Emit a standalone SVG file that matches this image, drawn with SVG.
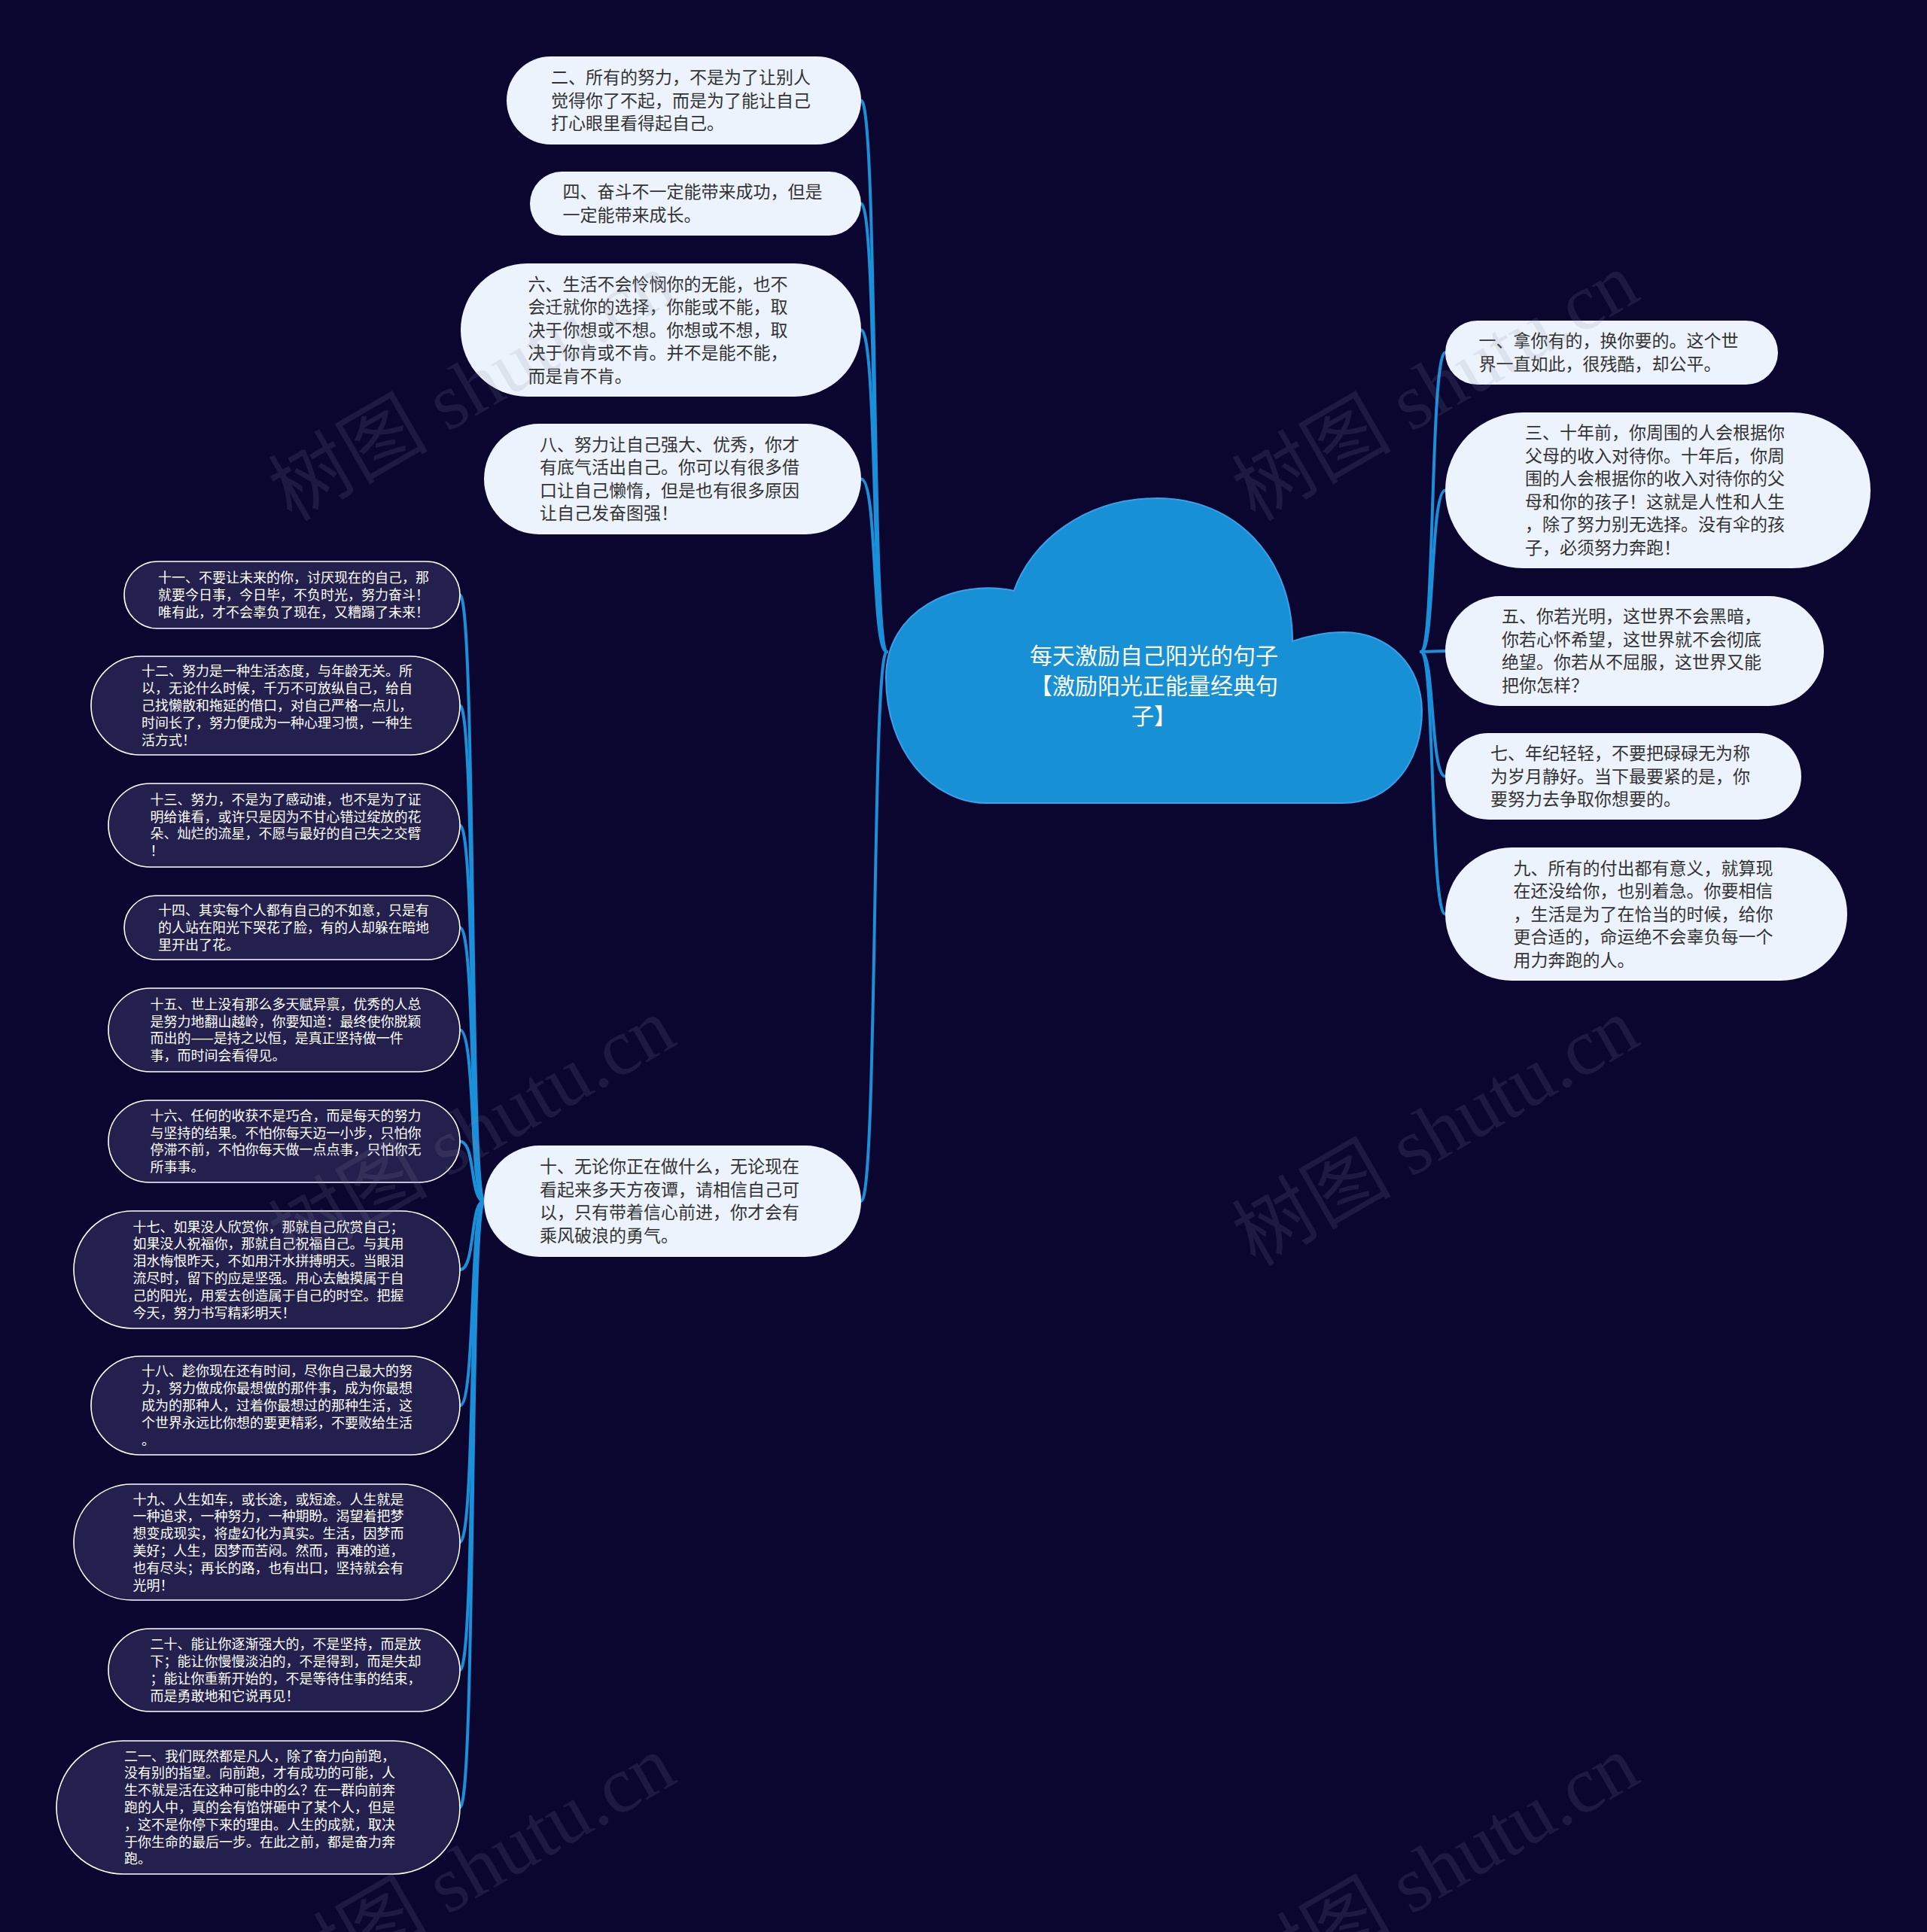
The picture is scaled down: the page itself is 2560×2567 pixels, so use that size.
<svg xmlns="http://www.w3.org/2000/svg" width="2560" height="2567" viewBox="0 0 2560 2567">
<style>
.lt{fill:#edf3fc}
.dk{fill:#23204d;stroke:#ffffff;stroke-width:1.6}
.lx{font-family:"Noto Sans CJK SC",sans-serif;font-size:23px;fill:#333333}
.dx{font-family:"Noto Sans CJK SC",sans-serif;font-size:18px;fill:#ffffff}
.cx{font-family:"Noto Sans CJK SC",sans-serif;font-size:30px;fill:#ffffff;text-anchor:middle}
.ln{fill:none;stroke:#1b8fd8;stroke-width:4;stroke-linecap:round}
.wm{font-family:"Liberation Serif","Noto Sans CJK SC",serif;font-size:106px;fill:#8a8aa0;opacity:0.15}
</style>
<rect x="0" y="0" width="2560" height="2567" fill="#0a0630"/>
<g id="connectors">
<path class="ln" d="M1178,866 C1158,866 1166,133.5 1144,133.5"/>
<path class="ln" d="M1178,866 C1158,866 1166,270.5 1144,270.5"/>
<path class="ln" d="M1178,866 C1158,866 1166,438.5 1144,438.5"/>
<path class="ln" d="M1178,866 C1158,866 1166,636.5 1144,636.5"/>
<path class="ln" d="M1178,866 C1158,866 1166,1596 1144,1596"/>
<path class="ln" d="M1888,866 C1906,866 1900,468.5 1920,468.5"/>
<path class="ln" d="M1888,866 C1906,866 1900,651.5 1920,651.5"/>
<path class="ln" d="M1888,866 C1906,866 1900,865 1920,865"/>
<path class="ln" d="M1888,866 C1906,866 1900,1031.5 1920,1031.5"/>
<path class="ln" d="M1888,866 C1906,866 1900,1214.5 1920,1214.5"/>
<path class="ln" d="M643,1596 C624,1596 632,790.5 611,790.5"/>
<path class="ln" d="M643,1596 C624,1596 632,937.5 611,937.5"/>
<path class="ln" d="M643,1596 C624,1596 632,1096.5 611,1096.5"/>
<path class="ln" d="M643,1596 C624,1596 632,1232.5 611,1232.5"/>
<path class="ln" d="M643,1596 C624,1596 632,1368.5 611,1368.5"/>
<path class="ln" d="M643,1596 C624,1596 632,1516.5 611,1516.5"/>
<path class="ln" d="M643,1596 C624,1596 632,1687 611,1687"/>
<path class="ln" d="M643,1596 C624,1596 632,1867.5 611,1867.5"/>
<path class="ln" d="M643,1596 C624,1596 632,2049 611,2049"/>
<path class="ln" d="M643,1596 C624,1596 632,2219 611,2219"/>
<path class="ln" d="M643,1596 C624,1596 632,2401.5 611,2401.5"/>
</g>
<g id="root">
<path d="M1311,1067 L1783,1067 C1850,1067 1889,1010 1889,945 C1889,885 1845,840 1785,840 C1760,840 1735,846 1717,852 C1717,740 1640,662 1538,662 C1440,662 1370,720 1347,785 C1270,768 1177,810 1177,900 C1177,1000 1240,1067 1311,1067 Z" fill="#1890d5" stroke="#3aa0e8" stroke-width="2"/>
<text class="cx" x="1533" y="881.5">每天激励自己阳光的句子</text>
<text class="cx" x="1533" y="921.5">【激励阳光正能量经典句</text>
<text class="cx" x="1533" y="961.5">子】</text>
</g>
<g id="n2"><rect class="lt" x="673" y="75" width="471" height="117" rx="58.5"/>
<text class="lx" x="732" y="111"><tspan x="732">二、所有的努力，不是为了让别人</tspan><tspan x="732" dy="30.5">觉得你了不起，而是为了能让自己</tspan><tspan x="732" dy="30.5">打心眼里看得起自己。</tspan></text></g>
<g id="n4"><rect class="lt" x="704" y="228" width="440" height="85" rx="42.5"/>
<text class="lx" x="747.5" y="263.25"><tspan x="747.5">四、奋斗不一定能带来成功，但是</tspan><tspan x="747.5" dy="30.5">一定能带来成长。</tspan></text></g>
<g id="n6"><rect class="lt" x="612" y="350" width="532" height="177" rx="88.5"/>
<text class="lx" x="701.5" y="385.5"><tspan x="701.5">六、生活不会怜悯你的无能，也不</tspan><tspan x="701.5" dy="30.5">会迁就你的选择，你能或不能，取</tspan><tspan x="701.5" dy="30.5">决于你想或不想。你想或不想，取</tspan><tspan x="701.5" dy="30.5">决于你肯或不肯。并不是能不能，</tspan><tspan x="701.5" dy="30.5">而是肯不肯。</tspan></text></g>
<g id="n8"><rect class="lt" x="643" y="563" width="501" height="147" rx="73.5"/>
<text class="lx" x="717" y="598.75"><tspan x="717">八、努力让自己强大、优秀，你才</tspan><tspan x="717" dy="30.5">有底气活出自己。你可以有很多借</tspan><tspan x="717" dy="30.5">口让自己懒惰，但是也有很多原因</tspan><tspan x="717" dy="30.5">让自己发奋图强！</tspan></text></g>
<g id="n10"><rect class="lt" x="643" y="1522" width="501" height="148" rx="74"/>
<text class="lx" x="717" y="1558.25"><tspan x="717">十、无论你正在做什么，无论现在</tspan><tspan x="717" dy="30.5">看起来多天方夜谭，请相信自己可</tspan><tspan x="717" dy="30.5">以，只有带着信心前进，你才会有</tspan><tspan x="717" dy="30.5">乘风破浪的勇气。</tspan></text></g>
<g id="n1"><rect class="lt" x="1920" y="426" width="442" height="85" rx="42.5"/>
<text class="lx" x="1964.5" y="461.25"><tspan x="1964.5">一、拿你有的，换你要的。这个世</tspan><tspan x="1964.5" dy="30.5">界一直如此，很残酷，却公平。</tspan></text></g>
<g id="n3"><rect class="lt" x="1920" y="548" width="565" height="207" rx="103.5"/>
<text class="lx" x="2026" y="583.25"><tspan x="2026">三、十年前，你周围的人会根据你</tspan><tspan x="2026" dy="30.5">父母的收入对待你。十年后，你周</tspan><tspan x="2026" dy="30.5">围的人会根据你的收入对待你的父</tspan><tspan x="2026" dy="30.5">母和你的孩子！这就是人性和人生</tspan><tspan x="2026" dy="30.5">，除了努力别无选择。没有伞的孩</tspan><tspan x="2026" dy="30.5">子，必须努力奔跑！</tspan></text></g>
<g id="n5"><rect class="lt" x="1920" y="792" width="503" height="146" rx="73"/>
<text class="lx" x="1995" y="827.25"><tspan x="1995">五、你若光明，这世界不会黑暗，</tspan><tspan x="1995" dy="30.5">你若心怀希望，这世界就不会彻底</tspan><tspan x="1995" dy="30.5">绝望。你若从不屈服，这世界又能</tspan><tspan x="1995" dy="30.5">把你怎样？</tspan></text></g>
<g id="n7"><rect class="lt" x="1920" y="974" width="473" height="115" rx="57.5"/>
<text class="lx" x="1980" y="1009"><tspan x="1980">七、年纪轻轻，不要把碌碌无为称</tspan><tspan x="1980" dy="30.5">为岁月静好。当下最要紧的是，你</tspan><tspan x="1980" dy="30.5">要努力去争取你想要的。</tspan></text></g>
<g id="n9"><rect class="lt" x="1920" y="1126" width="534" height="177" rx="88.5"/>
<text class="lx" x="2010.5" y="1161.5"><tspan x="2010.5">九、所有的付出都有意义，就算现</tspan><tspan x="2010.5" dy="30.5">在还没给你，也别着急。你要相信</tspan><tspan x="2010.5" dy="30.5">，生活是为了在恰当的时候，给你</tspan><tspan x="2010.5" dy="30.5">更合适的，命运绝不会辜负每一个</tspan><tspan x="2010.5" dy="30.5">用力奔跑的人。</tspan></text></g>
<g id="n11"><rect class="dk" x="165" y="746" width="446" height="89" rx="44.5"/>
<text class="dx" x="210" y="774.2"><tspan x="210">十一、不要让未来的你，讨厌现在的自己，那</tspan><tspan x="210" dy="22.8">就要今日事，今日毕，不负时光，努力奋斗！</tspan><tspan x="210" dy="22.8">唯有此，才不会辜负了现在，又糟蹋了未来！</tspan></text></g>
<g id="n12"><rect class="dk" x="121" y="872" width="490" height="131" rx="65.5"/>
<text class="dx" x="188" y="898.4"><tspan x="188">十二、努力是一种生活态度，与年龄无关。所</tspan><tspan x="188" dy="22.8">以，无论什么时候，千万不可放纵自己，给自</tspan><tspan x="188" dy="22.8">己找懒散和拖延的借口，对自己严格一点儿，</tspan><tspan x="188" dy="22.8">时间长了，努力便成为一种心理习惯，一种生</tspan><tspan x="188" dy="22.8">活方式！</tspan></text></g>
<g id="n13"><rect class="dk" x="144" y="1041" width="467" height="111" rx="55.5"/>
<text class="dx" x="199.5" y="1068.8"><tspan x="199.5">十三、努力，不是为了感动谁，也不是为了证</tspan><tspan x="199.5" dy="22.8">明给谁看，或许只是因为不甘心错过绽放的花</tspan><tspan x="199.5" dy="22.8">朵、灿烂的流星，不愿与最好的自己失之交臂</tspan><tspan x="199.5" dy="22.8">！</tspan></text></g>
<g id="n14"><rect class="dk" x="165" y="1190" width="446" height="85" rx="42.5"/>
<text class="dx" x="210" y="1216.2"><tspan x="210">十四、其实每个人都有自己的不如意，只是有</tspan><tspan x="210" dy="22.8">的人站在阳光下哭花了脸，有的人却躲在暗地</tspan><tspan x="210" dy="22.8">里开出了花。</tspan></text></g>
<g id="n15"><rect class="dk" x="144" y="1313" width="467" height="111" rx="55.5"/>
<text class="dx" x="199.5" y="1340.8"><tspan x="199.5">十五、世上没有那么多天赋异禀，优秀的人总</tspan><tspan x="199.5" dy="22.8">是努力地翻山越岭，你要知道：最终使你脱颖</tspan><tspan x="199.5" dy="22.8">而出的——是持之以恒，是真正坚持做一件</tspan><tspan x="199.5" dy="22.8">事，而时间会看得见。</tspan></text></g>
<g id="n16"><rect class="dk" x="144" y="1462" width="467" height="109" rx="54.5"/>
<text class="dx" x="199.5" y="1488.8"><tspan x="199.5">十六、任何的收获不是巧合，而是每天的努力</tspan><tspan x="199.5" dy="22.8">与坚持的结果。不怕你每天迈一小步，只怕你</tspan><tspan x="199.5" dy="22.8">停滞不前，不怕你每天做一点点事，只怕你无</tspan><tspan x="199.5" dy="22.8">所事事。</tspan></text></g>
<g id="n17"><rect class="dk" x="98" y="1609" width="513" height="156" rx="78"/>
<text class="dx" x="176.5" y="1636.5"><tspan x="176.5">十七、如果没人欣赏你，那就自己欣赏自己；</tspan><tspan x="176.5" dy="22.8">如果没人祝福你，那就自己祝福自己。与其用</tspan><tspan x="176.5" dy="22.8">泪水悔恨昨天，不如用汗水拼搏明天。当眼泪</tspan><tspan x="176.5" dy="22.8">流尽时，留下的应是坚强。用心去触摸属于自</tspan><tspan x="176.5" dy="22.8">己的阳光，用爱去创造属于自己的时空。把握</tspan><tspan x="176.5" dy="22.8">今天，努力书写精彩明天！</tspan></text></g>
<g id="n18"><rect class="dk" x="121" y="1802" width="490" height="131" rx="65.5"/>
<text class="dx" x="188" y="1828.4"><tspan x="188">十八、趁你现在还有时间，尽你自己最大的努</tspan><tspan x="188" dy="22.8">力，努力做成你最想做的那件事，成为你最想</tspan><tspan x="188" dy="22.8">成为的那种人，过着你最想过的那种生活，这</tspan><tspan x="188" dy="22.8">个世界永远比你想的要更精彩，不要败给生活</tspan><tspan x="188" dy="22.8">。</tspan></text></g>
<g id="n19"><rect class="dk" x="98" y="1972" width="513" height="154" rx="77"/>
<text class="dx" x="176.5" y="1998.5"><tspan x="176.5">十九、人生如车，或长途，或短途。人生就是</tspan><tspan x="176.5" dy="22.8">一种追求，一种努力，一种期盼。渴望着把梦</tspan><tspan x="176.5" dy="22.8">想变成现实，将虚幻化为真实。生活，因梦而</tspan><tspan x="176.5" dy="22.8">美好；人生，因梦而苦闷。然而，再难的道，</tspan><tspan x="176.5" dy="22.8">也有尽头；再长的路，也有出口，坚持就会有</tspan><tspan x="176.5" dy="22.8">光明！</tspan></text></g>
<g id="n20"><rect class="dk" x="144" y="2164" width="467" height="110" rx="55"/>
<text class="dx" x="199.5" y="2191.3"><tspan x="199.5">二十、能让你逐渐强大的，不是坚持，而是放</tspan><tspan x="199.5" dy="22.8">下；能让你慢慢淡泊的，不是得到，而是失却</tspan><tspan x="199.5" dy="22.8">；能让你重新开始的，不是等待住事的结束，</tspan><tspan x="199.5" dy="22.8">而是勇敢地和它说再见！</tspan></text></g>
<g id="n21"><rect class="dk" x="75" y="2313" width="536" height="177" rx="88.5"/>
<text class="dx" x="165" y="2339.6"><tspan x="165">二一、我们既然都是凡人，除了奋力向前跑，</tspan><tspan x="165" dy="22.8">没有别的指望。向前跑，才有成功的可能，人</tspan><tspan x="165" dy="22.8">生不就是活在这种可能中的么？在一群向前奔</tspan><tspan x="165" dy="22.8">跑的人中，真的会有馅饼砸中了某个人，但是</tspan><tspan x="165" dy="22.8">，这不是你停下来的理由。人生的成就，取决</tspan><tspan x="165" dy="22.8">于你生命的最后一步。在此之前，都是奋力奔</tspan><tspan x="165" dy="22.8">跑。</tspan></text></g>
<g id="watermark">
<text class="wm" text-anchor="middle" transform="translate(645,545) rotate(-30)">树图 shutu.cn</text>
<text class="wm" text-anchor="middle" transform="translate(1925,545) rotate(-30)">树图 shutu.cn</text>
<text class="wm" text-anchor="middle" transform="translate(645,1535) rotate(-30)">树图 shutu.cn</text>
<text class="wm" text-anchor="middle" transform="translate(1925,1535) rotate(-30)">树图 shutu.cn</text>
<text class="wm" text-anchor="middle" transform="translate(645,2515) rotate(-30)">树图 shutu.cn</text>
<text class="wm" text-anchor="middle" transform="translate(1925,2515) rotate(-30)">树图 shutu.cn</text>
</g>
</svg>
